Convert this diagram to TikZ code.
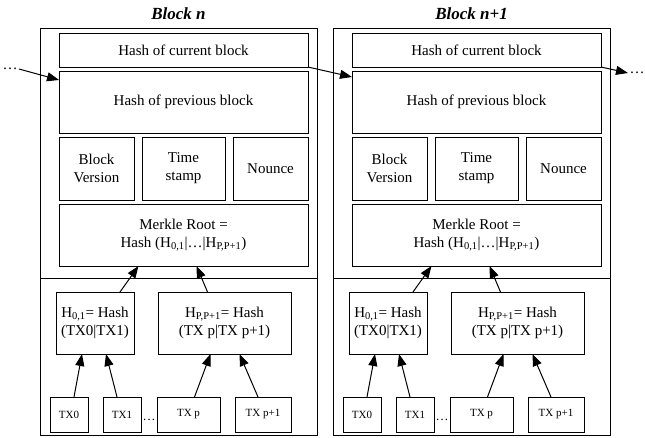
\documentclass[tikz,border=0pt]{standalone}
\usepackage{fontspec}
\setmainfont{Liberation Serif}
\usetikzlibrary{arrows.meta}

\begin{document}
\begin{tikzpicture}[x=1pt,y=-1pt,
  line width=1pt,field/.style={draw,font=\fontsize{15}{18}\selectfont,align=center,inner sep=0pt,outer sep=0pt},
  tx/.style={draw,font=\fontsize{11}{13}\selectfont,inner sep=0pt,outer sep=0pt,minimum height=35pt},
  link/.style={-{Triangle[length=12pt,width=9pt]}}]

  \useasboundingbox (0,0) rectangle (645,437);

  \foreach \b/\dx/\lab in {1/0/n,2/293/n+1}{
  \begin{scope}[xshift=\dx pt]
  \node[font=\fontsize{17}{20}\selectfont\bfseries\itshape] (title\b) at (178.5,14) {Block \lab};
  \node[draw,inner sep=0pt,minimum width=277pt,minimum height=407pt] (blk\b) at (178.5,231.5) {};
  \draw (40,278) -- (317,278);

  \node[field,minimum width=249pt,minimum height=34pt] (cur\b) at (183.5,50) {Hash of current block};
  \node[field,minimum width=249pt,minimum height=62pt] (prev\b) at (183.5,102) {Hash of previous block};
  \node[field,minimum width=75pt,minimum height=63pt] (ver\b) at (96.5,168.5) {Block\\Version};
  \node[field,minimum width=83pt,minimum height=63pt] (time\b) at (183.5,168.5) {Time\\stamp};
  \node[field,minimum width=75pt,minimum height=63pt] (nonce\b) at (270.5,168.5) {Nounce};
  \node[field,minimum width=249pt,minimum height=62pt] (root\b) at (183.5,235)
    {Merkle Root =\\Hash (H\textsubscript{0,1}|\ldots|H\textsubscript{P,P+1})};

  \node[field,minimum width=78pt,minimum height=62pt] (hl\b) at (95,323) {H\textsubscript{0,1}= Hash\\(TX0|TX1)};
  \node[field,minimum width=133pt,minimum height=62pt] (hr\b) at (224.5,323) {H\textsubscript{P,P+1}= Hash\\(TX p|TX p+1)};

  \node[tx,minimum width=38pt] (txa\b) at (69,414.5) {TX0};
  \node[tx,minimum width=38pt] (txb\b) at (122,414.5) {TX1};
  \node[tx,minimum width=63pt] (txc\b) at (188.5,414.5) {TX p};
  \node[tx,minimum width=56pt] (txd\b) at (263,414.5) {TX p+1};
  \node[font=\fontsize{13}{15}\selectfont,inner sep=0pt] (gap\b) at (149,420) {\ldots};

  \draw[link] ([xshift=25pt]hl\b.north) -- ([xshift=-45pt]root\b.south);
  \draw[link] ([xshift=-17pt]hr\b.north) -- ([xshift=13pt]root\b.south);
  \draw[link] ([xshift=5pt]txa\b.north) -- ([xshift=-13pt]hl\b.south);
  \draw[link] ([xshift=-5pt]txb\b.north) -- ([xshift=11pt]hl\b.south);
  \draw[link] ([xshift=6pt]txc\b.north) -- ([xshift=-14pt]hr\b.south);
  \draw[link] ([xshift=-5pt]txd\b.north) -- ([xshift=15pt]hr\b.south);
  \end{scope}
  }

  % chain between the blocks
  \node[font=\fontsize{15}{18}\selectfont,inner sep=1pt] (dotsl) at (10,69) {\ldots};
  \node[font=\fontsize{15}{18}\selectfont,inner sep=1pt] (dotsr) at (637,73) {\ldots};
  \draw[link] (dotsl.east) -- ([yshift=22pt]prev1.west);
  \draw[link] (cur1.south east) -- ([yshift=25pt]prev2.west);
  \draw[link] (cur2.south east) -- (dotsr.west);
\end{tikzpicture}
\end{document}
